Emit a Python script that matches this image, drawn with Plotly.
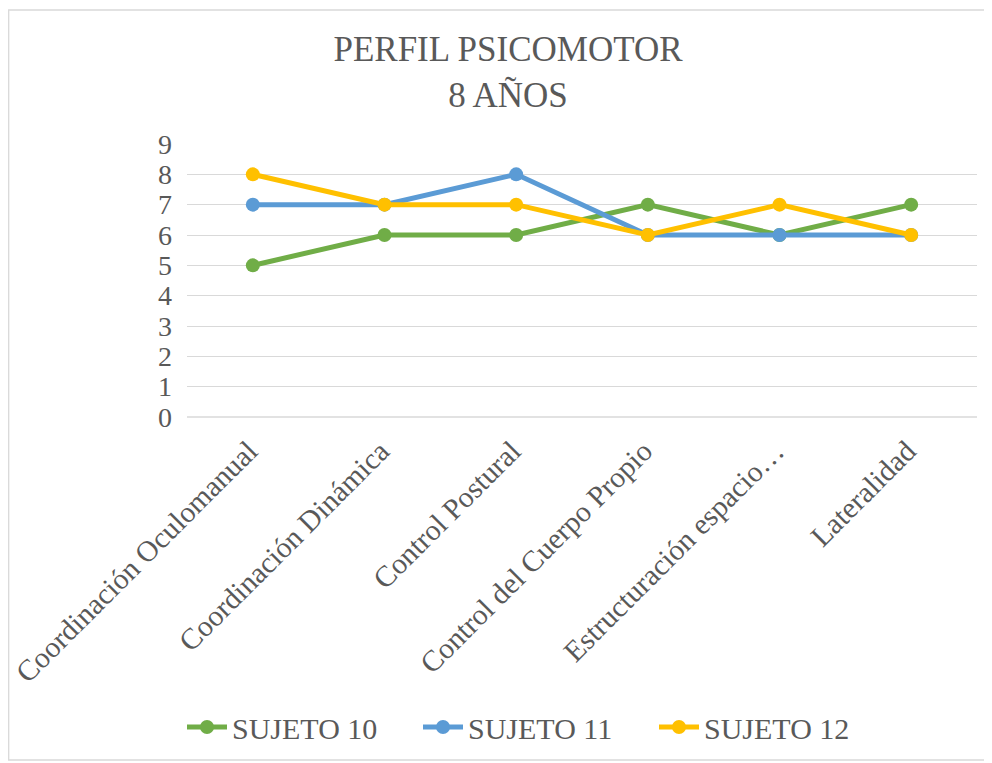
import plotly.graph_objects as go

categories = ["Coordinación Oculomanual", "Coordinación Dinámica", "Control Postural",
              "Control del Cuerpo Propio", "Estructuración espacio…", "Lateralidad"]
sujeto10 = [5, 6, 6, 7, 6, 7]
sujeto11 = [7, 7, 8, 6, 6, 6]
sujeto12 = [8, 7, 7, 6, 7, 6]
series_names = ["SUJETO 10", "SUJETO 11", "SUJETO 12"]
colors = ["#70AD47", "#5B9BD5", "#FFC000"]
y_ticks = list(range(0, 10))

FONT = "Liberation Serif, Times New Roman, serif"
TXT = "#595959"

fig = go.Figure()
for name, vals, col in zip(series_names, [sujeto10, sujeto11, sujeto12], colors):
    fig.add_trace(go.Scatter(
        x=categories, y=vals, name=name, mode="lines+markers",
        line=dict(color=col, width=5),
        marker=dict(color=col, size=14),
    ))

OFF = 8  # page offset
W, H = 992, 763
L, T = 187 - OFF, 144 - OFF
R = W - (977 - OFF)
B = H - (417 - OFF)
pw, ph = W - L - R, H - T - B

def px_x(px):
    return (px - OFF - L) / pw

def px_y(py):
    return (H - B - (py - OFF)) / ph

fig.update_layout(
    width=W, height=H,
    margin=dict(l=L, r=R, t=T, b=B, autoexpand=False),
    paper_bgcolor="white", plot_bgcolor="white",
    font=dict(family=FONT, color=TXT, size=28),
    title=dict(text="PERFIL PSICOMOTOR<br>8 AÑOS", x=(508 - OFF) / W, xanchor="center",
               y=1 - (61 - OFF) / H, yanchor="middle",
               font=dict(family=FONT, size=35, color=TXT)),
    showlegend=True,
    legend=dict(orientation="h", x=px_x(536), xanchor="center", y=px_y(727), yanchor="middle",
                font=dict(family=FONT, size=30, color=TXT), itemwidth=40,
                entrywidth=181, entrywidthmode="pixels",
                bgcolor="rgba(0,0,0,0)"),
    xaxis=dict(type="category", range=[-0.5, 5.5], showgrid=False, showline=False,
               ticks="", tickangle=-45, tickfont=dict(family=FONT, size=29.5, color=TXT),
               automargin=False, zeroline=False, ticklabelstandoff=10, ticklabelshift=-4),
    yaxis=dict(range=[0, 9], tickvals=y_ticks, showgrid=True, gridcolor="#D9D9D9",
               gridwidth=1.3, zeroline=False, showline=False, ticks="",
               tickfont=dict(family=FONT, size=28, color=TXT), automargin=False,
               ticklabelstandoff=14),
)
fig.add_shape(type="line", xref="paper", yref="paper", x0=0, x1=1, y0=0, y1=0,
              line=dict(color="#D9D9D9", width=1.3), layer="below")
fig.add_shape(type="rect", xref="paper", yref="paper",
              x0=px_x(OFF + 0.7), x1=px_x(989), y0=px_y(10), y1=px_y(760),
              line=dict(color="#D9D9D9", width=1.3))

fig.write_html("out.html")
